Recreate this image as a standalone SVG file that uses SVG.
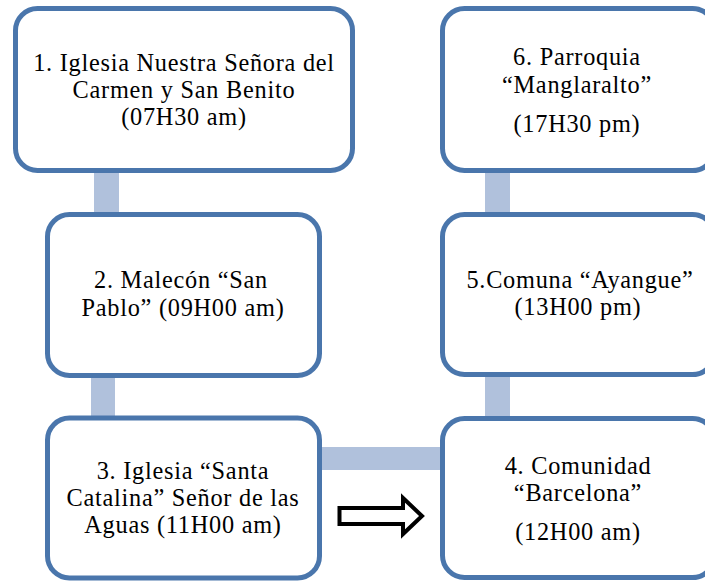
<svg xmlns="http://www.w3.org/2000/svg" width="705" height="582" viewBox="0 0 705 582">
<style>
.box{fill:#ffffff;stroke:#4a76ac;stroke-width:5}
.conn{fill:#b0c1dc;stroke:none}
.t{font-family:"Liberation Serif","Times New Roman",serif;font-size:24.3px;letter-spacing:0.75px;fill:#000;text-anchor:middle}
</style>
<rect width="705" height="582" fill="#ffffff"/>
<g id="connectors">
<rect class="conn" x="94" y="170" width="25" height="45"/>
<rect class="conn" x="91" y="375" width="24" height="45"/>
<rect class="conn" x="318" y="447" width="125" height="23"/>
<rect class="conn" x="485" y="374" width="25" height="46"/>
<rect class="conn" x="485" y="170" width="25" height="45"/>
<path d="M339.5,508 H403 V498 L422,516 L403,534 V524 H339.5 Z" fill="#ffffff" stroke="#000" stroke-width="4"/>
</g>
<g id="node1">
<rect class="box" x="15.5" y="8.5" width="337" height="162" rx="22"/>
<text class="t" x="184" y="71">1. Iglesia Nuestra Señora del</text>
<text class="t" x="184" y="98">Carmen y San Benito</text>
<text class="t" x="184" y="125">(07H30 am)</text>
</g>
<g id="node2">
<rect class="box" x="47.5" y="214.5" width="272" height="161" rx="22"/>
<text class="t" x="181" y="288">2. Malecón “San</text>
<text class="t" x="183" y="316">Pablo” (09H00 am)</text>
</g>
<g id="node3">
<rect class="box" x="47.5" y="418" width="272" height="160" rx="22"/>
<text class="t" x="183" y="479">3. Iglesia “Santa</text>
<text class="t" x="183" y="506">Catalina” Señor de las</text>
<text class="t" x="183" y="533">Aguas (11H00 am)</text>
</g>
<g id="node4">
<rect class="box" x="442.5" y="418.5" width="272" height="159" rx="22"/>
<text class="t" x="578" y="474">4. Comunidad</text>
<text class="t" x="578" y="501">“Barcelona”</text>
<text class="t" x="578" y="540">(12H00 am)</text>
</g>
<g id="node5">
<rect class="box" x="442.5" y="214.5" width="272" height="160" rx="22"/>
<text class="t" x="580" y="288">5.Comuna “Ayangue”</text>
<text class="t" x="578" y="315">(13H00 pm)</text>
</g>
<g id="node6">
<rect class="box" x="442.5" y="8.5" width="272" height="162" rx="22"/>
<text class="t" x="577" y="65">6. Parroquia</text>
<text class="t" x="577" y="93">“Manglaralto”</text>
<text class="t" x="577" y="132">(17H30 pm)</text>
</g>
</svg>
